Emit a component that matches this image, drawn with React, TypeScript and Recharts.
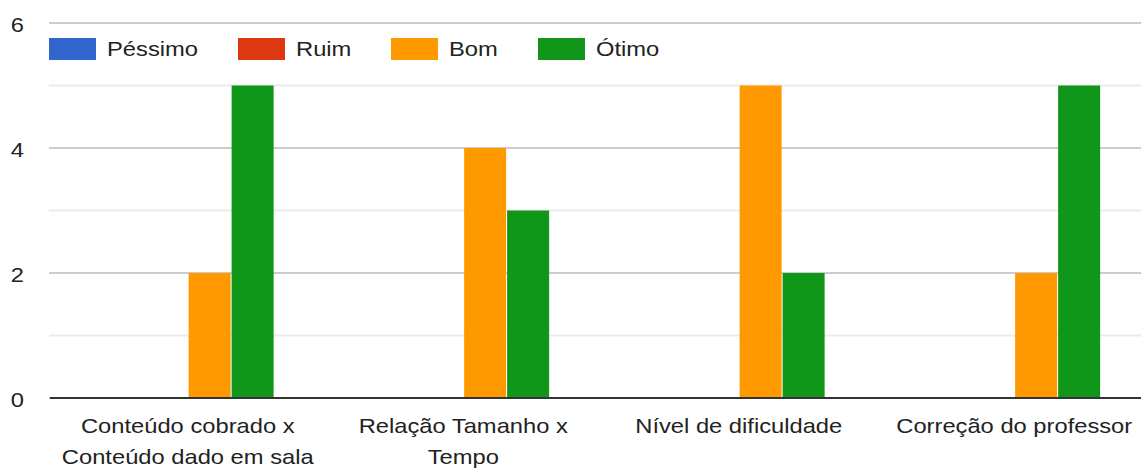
import React from "react";
import { BarChart, Bar, XAxis, YAxis, CartesianGrid } from "recharts";

const categories = [
  "Conteúdo cobrado x Conteúdo dado em sala",
  "Relação Tamanho x Tempo",
  "Nível de dificuldade",
  "Correção do professor",
];
const pessimo = [0, 0, 0, 0];
const ruim = [0, 0, 0, 0];
const bom = [2, 4, 5, 2];
const otimo = [5, 3, 2, 5];

const yTicks = [0, 1, 2, 3, 4, 5, 6];
const yLabeled = [0, 2, 4, 6];

const seriesNames = ["Péssimo", "Ruim", "Bom", "Ótimo"];
const seriesKeys = ["pessimo", "ruim", "bom", "otimo"];
const seriesColors = ["#3366cc", "#dc3912", "#ff9900", "#109618"];

const W = 1152;
const H = 469;
const VIEW_W = 1141;
const FONT = "'Liberation Sans', Arial, sans-serif";
const FS = 21;
const SX = 1.13; // source text is a little wider than plain Arial
const TEXT = "#222222";

const data = categories.map((name, i) => ({
  name,
  pessimo: pessimo[i],
  ruim: ruim[i],
  bom: bom[i],
  otimo: otimo[i],
}));

let ctx: CanvasRenderingContext2D | null = null;
const textWidth = (s: string): number => {
  if (!ctx && typeof document !== "undefined") {
    ctx = document.createElement("canvas").getContext("2d");
  }
  if (!ctx) return s.length * FS * 0.5 * SX;
  ctx.font = `${FS}px ${FONT}`;
  return ctx.measureText(s).width * SX;
};

const wrap = (label: string, maxW: number): string[] => {
  const words = label.split(" ");
  const lines: string[] = [];
  let cur = "";
  words.forEach((w) => {
    const next = cur ? cur + " " + w : w;
    if (cur && textWidth(next) > maxW) {
      lines.push(cur);
      cur = w;
    } else {
      cur = next;
    }
  });
  if (cur) lines.push(cur);
  return lines;
};

const XTick = (props: any) => {
  const { x, y, payload } = props;
  const lines = wrap(String(payload.value), 255);
  const widest = Math.max(...lines.map(textWidth));
  // keep the label inside the visible area, like the source does
  let cx = x;
  if (cx + widest / 2 > VIEW_W - 6) cx = VIEW_W - 6 - widest / 2;
  return (
    <g>
      {lines.map((ln, i) => (
        <text
          key={i}
          transform={`translate(${cx},${y + 27 + i * 31}) scale(${SX},1)`}
          textAnchor="middle"
          fontSize={FS}
          fontFamily={FONT}
          fill={TEXT}
        >
          {ln}
        </text>
      ))}
    </g>
  );
};

const YTick = (props: any) => {
  const { y, payload } = props;
  if (!yLabeled.includes(payload.value)) return null;
  return (
    <text
      transform={`translate(24,${y + 8.5}) scale(${SX},1)`}
      textAnchor="end"
      fontSize={FS}
      fontFamily={FONT}
      fill={TEXT}
    >
      {payload.value}
    </text>
  );
};

const GridLine = (props: any) => {
  const { x1, y1, x2, y2, index } = props;
  const major = (index ?? 0) % 2 === 0;
  return (
    <line
      x1={x1 - 1}
      y1={y1}
      x2={x2}
      y2={y2}
      stroke={major ? "#cccccc" : "#ebebeb"}
      strokeWidth={2}
    />
  );
};

export default function App() {
  return (
    <div
      style={{
        position: "absolute",
        left: 0,
        top: 0,
        width: VIEW_W,
        height: H,
        overflow: "hidden",
        background: "#fff",
        fontFamily: FONT,
      }}
    >
      <BarChart
        width={W}
        height={H}
        data={data}
        margin={{ top: 23, right: 0, bottom: 0, left: 0 }}
        barCategoryGap="19.1%"
        barGap={1}
      >
        <CartesianGrid vertical={false} horizontal={GridLine} />
        <YAxis
          domain={[0, 6]}
          ticks={yTicks}
          width={50}
          axisLine={false}
          tickLine={false}
          tick={YTick}
          interval={0}
        />
        <XAxis
          dataKey="name"
          height={71}
          tickLine={false}
          axisLine={{ stroke: "#333333", strokeWidth: 2 }}
          tick={XTick}
          interval={0}
        />
        {seriesKeys.map((k, i) => (
          <Bar
            key={k}
            dataKey={k}
            name={seriesNames[i]}
            fill={seriesColors[i]}
            isAnimationActive={false}
          />
        ))}
      </BarChart>

      {/* legend sits inside the plot, between the 6 and 5 lines */}
      <div
        style={{
          position: "absolute",
          left: 49,
          top: 38,
          display: "flex",
          alignItems: "center",
          height: 22,
        }}
      >
        {seriesNames.map((n, i) => (
          <div
            key={n}
            style={{ display: "flex", alignItems: "center", marginRight: 40 }}
          >
            <div
              style={{
                width: 47,
                height: 22,
                background: seriesColors[i],
                marginRight: 11,
              }}
            />
            <div style={{ width: textWidth(n), height: 22, position: "relative" }}>
              <span
                style={{
                  position: "absolute",
                  left: 0,
                  top: -1,
                  fontSize: FS,
                  lineHeight: "24px",
                  color: TEXT,
                  whiteSpace: "nowrap",
                  transform: `scaleX(${SX})`,
                  transformOrigin: "left center",
                }}
              >
                {n}
              </span>
            </div>
          </div>
        ))}
      </div>
    </div>
  );
}
